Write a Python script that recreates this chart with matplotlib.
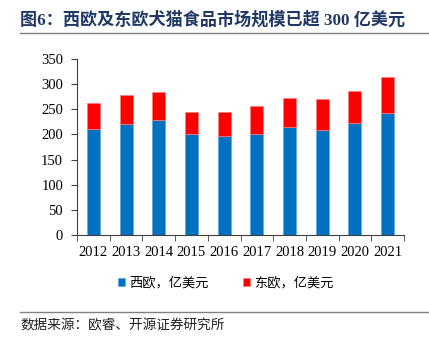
import numpy as np
import matplotlib
matplotlib.use("Agg")
import matplotlib.pyplot as plt
from matplotlib.lines import Line2D

plt.rcParams['font.family'] = ['Liberation Serif', 'Noto Sans CJK SC']

years = ['2012', '2013', '2014', '2015', '2016', '2017', '2018', '2019', '2020', '2021']
west = [210, 220, 228, 200, 197, 201, 214, 209, 222, 242]
east = [52, 58, 56, 44, 47, 55, 59, 61, 65, 72]

fig = plt.figure(figsize=(4.29, 3.40), dpi=100)
ax = fig.add_axes([77 / 429, 1 - 235 / 340, (404 - 77) / 429, (235 - 59) / 340])

x = np.arange(len(years))
ax.bar(x, west, width=0.4, color='#0070C0', edgecolor='#5FA8E0', linewidth=0.5, label='西欧，亿美元')
ax.bar(x, east, width=0.4, bottom=west, color='#FF0000', edgecolor='#FF8080', linewidth=0.5, label='东欧，亿美元')

ax.set_xlim(-0.5, 9.5)
ax.set_ylim(0, 350)
ax.set_yticks(range(0, 351, 50))
ax.set_xticks(x)
ax.set_xticklabels(years)
ax.set_xticks(np.arange(-0.5, 10, 1), minor=True)
ax.tick_params(axis='x', which='major', length=0, pad=8, labelsize=10.5)
ax.tick_params(axis='x', which='minor', length=4, direction='out', color='#404040')
ax.tick_params(axis='y', length=4, direction='out', labelsize=10.5, color='#404040', pad=6)
for s in ['top', 'right']:
    ax.spines[s].set_visible(False)
for s in ['left', 'bottom']:
    ax.spines[s].set_color('#404040')
    ax.spines[s].set_linewidth(0.8)

leg = fig.legend(loc='center', bbox_to_anchor=(0.527, 1 - 283 / 340), ncol=2, frameon=False,
                 handlelength=0.55, handleheight=0.55, handletextpad=0.3, columnspacing=2.6,
                 prop={'family': 'Noto Sans CJK SC', 'size': 9.5})

fig.text(20 / 429, 1 - 20 / 340, '图6：西欧及东欧犬猫食品市场规模已超 300 亿美元', fontsize=12.3, fontweight='bold',
         color='#1F3864', va='center', family=['Liberation Serif', 'Noto Sans CJK SC'])
fig.add_artist(Line2D([20 / 429, 1], [1 - 33 / 340, 1 - 33 / 340], color='#808080', lw=1))
fig.add_artist(Line2D([20 / 429, 1], [1 - 312 / 340, 1 - 312 / 340], color='#808080', lw=1))
fig.text(20 / 429, 1 - 325 / 340, '数据来源：欧睿、开源证券研究所', fontsize=9.8, color='#202020', va='center',
         family=['Noto Sans CJK SC', 'DejaVu Sans'])

fig.savefig('out.png', dpi=100)
